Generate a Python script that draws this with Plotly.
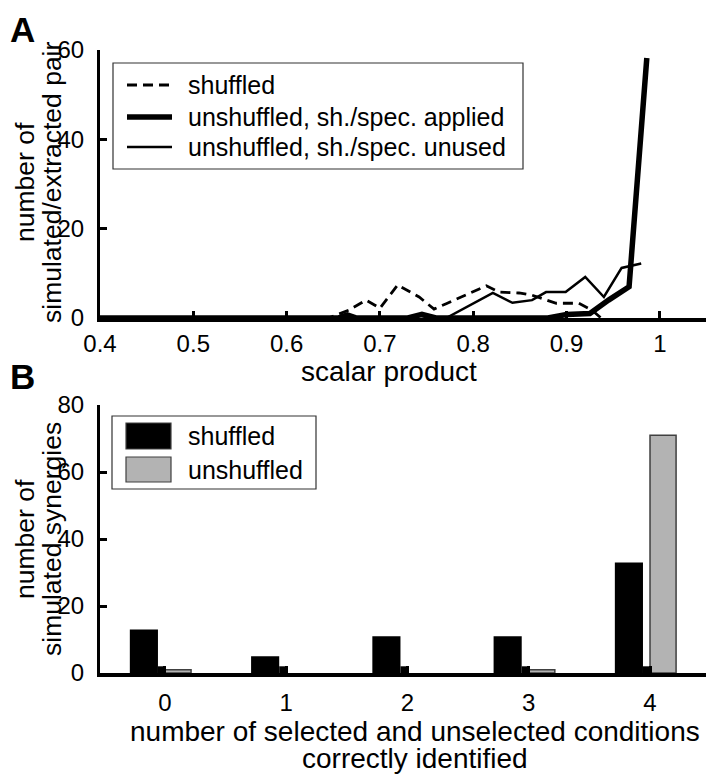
import plotly.graph_objects as go

# ---------------- data ----------------
# Panel A: histogram curves of scalar product
shuffled_x = [0.40, 0.645, 0.667, 0.685, 0.700, 0.719, 0.742, 0.758, 0.771, 0.796, 0.814, 0.828,
              0.849, 0.863, 0.889, 0.913, 0.927, 0.937]
shuffled_y = [0, 0, 1.8, 4.0, 2.2, 7.4, 4.7, 2.0, 3.2, 5.6, 7.2, 5.8,
              5.6, 5.1, 3.3, 3.3, 1.8, 0]

applied_x = [0.40, 0.655, 0.665, 0.675, 0.730, 0.745, 0.760, 0.880, 0.900, 0.925, 0.945, 0.967, 0.986]
applied_y = [0, 0, 0.7, 0, 0, 0.8, 0, 0, 0.8, 1.0, 4.0, 7.0, 58.2]

unused_x = [0.40, 0.725, 0.740, 0.755, 0.771, 0.821, 0.842, 0.863, 0.878, 0.899, 0.920, 0.940, 0.959, 0.980]
unused_y = [0, 0, 0.6, 0, 0, 5.6, 3.4, 4.0, 5.8, 5.8, 9.2, 4.7, 11.2, 12.2]

a_xticks = [0.4, 0.5, 0.6, 0.7, 0.8, 0.9, 1.0]
a_xticklabels = ["0.4", "0.5", "0.6", "0.7", "0.8", "0.9", "1"]
a_yticks = [0, 20, 40, 60]

# Panel B: number of simulated synergies per category
categories = [0, 1, 2, 3, 4]
shuffled_counts = [13, 5, 11, 11, 33]
shuffled_extra = [2, 2, 2, 2, 2]
unshuffled_counts = [1, 0, 0, 1, 71]
b_yticks = [0, 20, 40, 60, 80]

legend_a_labels = ["shuffled", "unshuffled, sh./spec. applied", "unshuffled, sh./spec. unused"]
legend_b_labels = ["shuffled", "unshuffled"]
a_xtitle = "scalar product"
a_ytitle = ["number of", "simulated/extracted pair"]
b_xtitle = ["number of selected and unselected conditions", "correctly identified"]
b_ytitle = ["number of", "simulated synergies"]

# ---------------- layout helpers ----------------
OFF = 8                      # page body margin around the plot div
W, H = 714 - OFF, 776 - OFF
ML, MR, MT, MB = 100 - OFF, 7, 50 - OFF, H - (673 - OFF)
PW, PH = W - ML - MR, H - MT - MB
FONT = "Liberation Sans, Arial, Helvetica, sans-serif"
GRAY = "#b3b3b3"


def px(x):
    """page x pixel -> paper x"""
    return (x - OFF - ML) / PW


def py(y):
    """page y pixel -> paper y"""
    return (H - MB - (y - OFF)) / PH


fig = go.Figure()

fig.add_trace(go.Scatter(x=shuffled_x, y=shuffled_y, mode="lines", name=legend_a_labels[0],
                         line=dict(color="black", width=2.8, dash="10px,6px"),
                         xaxis="x", yaxis="y", showlegend=False))
fig.add_trace(go.Scatter(x=unused_x, y=unused_y, mode="lines", name=legend_a_labels[2],
                         line=dict(color="black", width=2.5),
                         xaxis="x", yaxis="y", showlegend=False))
fig.add_trace(go.Scatter(x=applied_x, y=applied_y, mode="lines", name=legend_a_labels[1],
                         line=dict(color="black", width=5.5),
                         xaxis="x", yaxis="y", showlegend=False))

fig.add_trace(go.Bar(x=categories, y=shuffled_counts, name=legend_b_labels[0],
                     offset=-0.29, width=0.232, marker=dict(color="black", line=dict(width=0)),
                     xaxis="x2", yaxis="y2", showlegend=False))
fig.add_trace(go.Bar(x=categories, y=shuffled_extra, name="shuffled (extra)",
                     offset=-0.058, width=0.05, marker=dict(color="black", line=dict(width=0)),
                     xaxis="x2", yaxis="y2", showlegend=False))
fig.add_trace(go.Bar(x=categories, y=unshuffled_counts, name=legend_b_labels[1],
                     offset=0.0, width=0.215,
                     marker=dict(color=GRAY, line=dict(color="#404040",
                                                       width=[1.5 if v > 0 else 0 for v in unshuffled_counts])),
                     xaxis="x2", yaxis="y2", showlegend=False))

axis_common = dict(showline=True, linecolor="black", showgrid=False, zeroline=False, automargin=False,
                   ticks="inside", tickcolor="black", ticklen=7, tickwidth=2.5,
                   tickfont=dict(family=FONT, size=24, color="black"), mirror=False)

fig.update_layout(
    width=W, height=H,
    margin=dict(l=ML, r=MR, t=MT, b=MB, pad=0, autoexpand=False),
    paper_bgcolor="white", plot_bgcolor="white",
    barmode="overlay",
    font=dict(family=FONT, color="black"),
    xaxis=dict(domain=[0, 1], anchor="y", range=[0.4, 1.0505], tickvals=a_xticks, ticktext=a_xticklabels,
               linewidth=4, ticklabelstandoff=1, **axis_common),
    yaxis=dict(domain=[py(318), 1], anchor="x", range=[0, 60], tickvals=a_yticks, linewidth=3,
               ticklabelstandoff=8, **axis_common),
    xaxis2=dict(domain=[0, 1], anchor="y2", range=[-0.536, 4.47], tickvals=categories, linewidth=4,
                ticklabelstandoff=5, **axis_common),
    yaxis2=dict(domain=[0, py(405)], anchor="x2", range=[0, 80], tickvals=b_yticks, linewidth=3,
                ticklabelstandoff=8, **axis_common),
)

shapes = []
annotations = []


def text(t, x, y, size, angle=0, xanchor="center", yanchor="middle"):
    annotations.append(dict(text=t, xref="paper", yref="paper", x=px(x), y=py(y), xanchor=xanchor,
                            yanchor=yanchor, textangle=angle, showarrow=False,
                            font=dict(size=size, family=FONT, color="black")))


# Axis titles
text(a_xtitle, 389, 372, 28)
text(a_ytitle[0], 25, 182, 26.5, angle=-90)
text(a_ytitle[1], 52, 182, 26.5, angle=-90)
text(b_xtitle[0], 415, 731, 28)
text(b_xtitle[1], 415, 758, 28)
text(b_ytitle[0], 25, 539, 26.5, angle=-90)
text(b_ytitle[1], 52, 539, 26.5, angle=-90)

# Legend A (manual box)
shapes.append(dict(type="rect", xref="paper", yref="paper", x0=px(113), x1=px(523), y0=py(169), y1=py(63),
                   line=dict(color="#333333", width=1.2), fillcolor="white", layer="above"))
rows_a = [85, 117, 147]
styles_a = [dict(width=2.8, dash="10px,6px"), dict(width=5.5), dict(width=2.5)]
for label, yy, st in zip(legend_a_labels, rows_a, styles_a):
    shapes.append(dict(type="line", xref="paper", yref="paper", x0=px(127), x1=px(172), y0=py(yy), y1=py(yy),
                       line=dict(color="black", **st), layer="above"))
    text(label, 186, yy, 25, xanchor="left")

# Legend B (manual box)
shapes.append(dict(type="rect", xref="paper", yref="paper", x0=px(112), x1=px(316), y0=py(489), y1=py(416),
                   line=dict(color="#333333", width=1.2), fillcolor="white", layer="above"))
rows_b = [(423, 449), (457, 482)]
fills_b = ["black", GRAY]
for label, (t, b), fc in zip(legend_b_labels, rows_b, fills_b):
    shapes.append(dict(type="rect", xref="paper", yref="paper", x0=px(126), x1=px(171), y0=py(b), y1=py(t),
                       fillcolor=fc, line=dict(color="#404040", width=1.2), layer="above"))
    text(label, 186, (t + b) / 2, 25, xanchor="left")

# Panel letters
text("<b>A</b>", 8, 8, 35, xanchor="left", yanchor="top")
text("<b>B</b>", 8, 355, 35, xanchor="left", yanchor="top")

fig.update_layout(shapes=shapes, annotations=annotations)

fig.write_html("out.html")
